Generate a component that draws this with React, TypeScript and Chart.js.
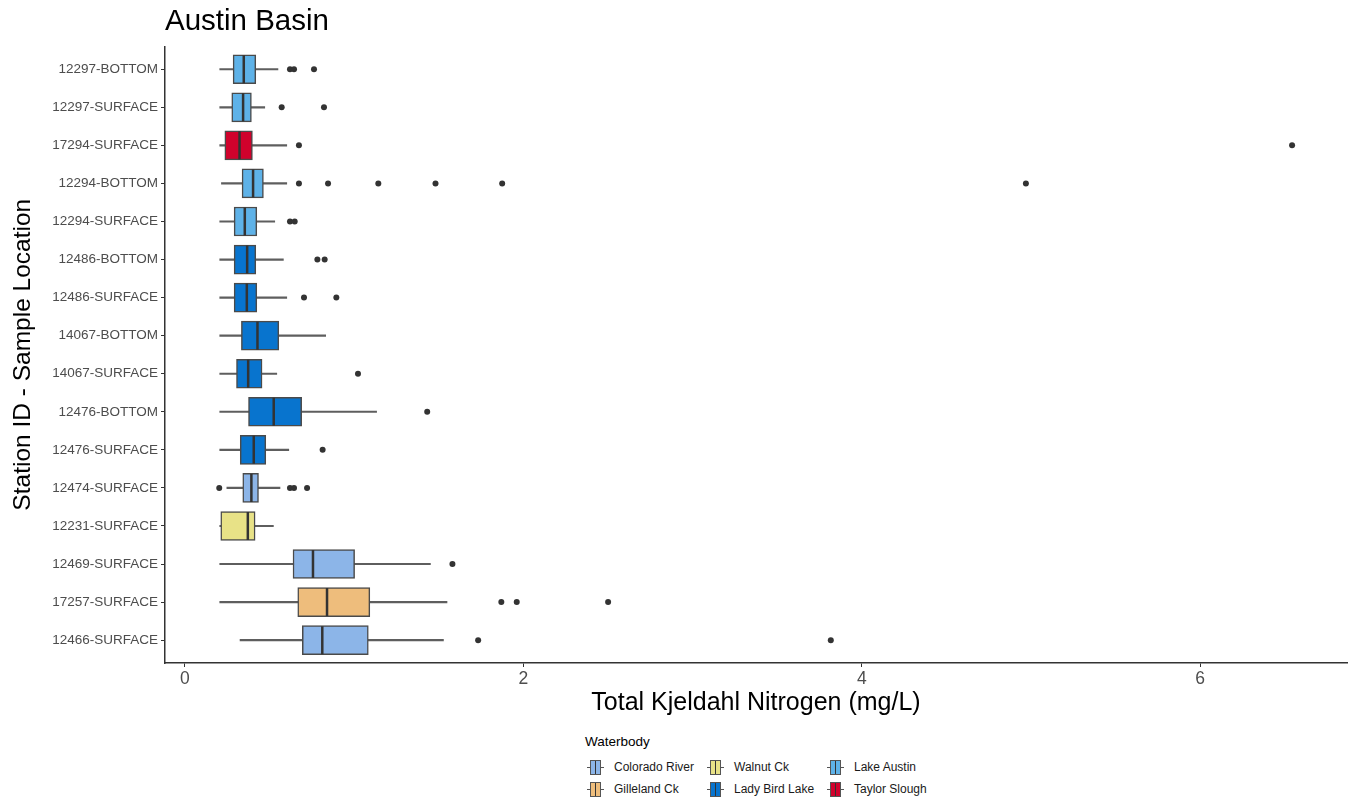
import React, { useEffect, useRef } from "react";
import { Chart, registerables } from "chart.js";

Chart.register(...registerables);

const stations = [
  "12297-BOTTOM",
  "12297-SURFACE",
  "17294-SURFACE",
  "12294-BOTTOM",
  "12294-SURFACE",
  "12486-BOTTOM",
  "12486-SURFACE",
  "14067-BOTTOM",
  "14067-SURFACE",
  "12476-BOTTOM",
  "12476-SURFACE",
  "12474-SURFACE",
  "12231-SURFACE",
  "12469-SURFACE",
  "17257-SURFACE",
  "12466-SURFACE",
];

const waterbodyOf = [
  "Lake Austin",
  "Lake Austin",
  "Taylor Slough",
  "Lake Austin",
  "Lake Austin",
  "Lady Bird Lake",
  "Lady Bird Lake",
  "Lady Bird Lake",
  "Lady Bird Lake",
  "Lady Bird Lake",
  "Lady Bird Lake",
  "Colorado River",
  "Walnut Ck",
  "Colorado River",
  "Gilleland Ck",
  "Colorado River",
];

const whiskerLow = [0.206, 0.206, 0.206, 0.216, 0.206, 0.206, 0.206, 0.206, 0.206, 0.206, 0.206, 0.248, 0.206, 0.206, 0.206, 0.326];
const q1 = [0.285, 0.277, 0.236, 0.338, 0.291, 0.291, 0.291, 0.334, 0.305, 0.376, 0.327, 0.342, 0.212, 0.639, 0.667, 0.694];
const median = [0.348, 0.344, 0.323, 0.403, 0.354, 0.368, 0.366, 0.429, 0.374, 0.525, 0.407, 0.393, 0.372, 0.757, 0.84, 0.812];
const q3 = [0.419, 0.393, 0.399, 0.464, 0.425, 0.419, 0.425, 0.555, 0.456, 0.69, 0.478, 0.435, 0.415, 1.003, 1.093, 1.084];
const whiskerHigh = [0.55, 0.472, 0.602, 0.602, 0.531, 0.582, 0.602, 0.832, 0.543, 1.133, 0.614, 0.562, 0.523, 1.451, 1.549, 1.528];

const outliers: number[][] = [
  [0.621, 0.645, 0.763],
  [0.572, 0.822],
  [0.674, 6.543],
  [0.674, 0.846, 1.143, 1.481, 1.875, 4.97],
  [0.621, 0.649],
  [0.783, 0.826],
  [0.704, 0.895],
  [],
  [1.023],
  [1.432],
  [0.814],
  [0.203, 0.621, 0.645, 0.722],
  [],
  [1.581],
  [1.87, 1.961, 2.501],
  [1.733, 3.817],
];

const xTicks = [0, 2, 4, 6];

const legendNames = ["Colorado River", "Gilleland Ck", "Walnut Ck", "Lady Bird Lake", "Lake Austin", "Taylor Slough"];
const legendColors = ["#8cb5e8", "#eebd7c", "#e8e287", "#0874ce", "#5eb2e8", "#d0022c"];

const colorFor = (name: string) => legendColors[legendNames.indexOf(name)];

const FONT = "'Liberation Sans', Arial, Helvetica, sans-serif";

function LegendKey({ color }: { color: string }) {
  return (
    <div style={{ position: "relative", width: 17, height: 16, flex: "0 0 auto" }}>
      <div style={{ position: "absolute", left: 0, right: 0, top: 7.5, height: 1.2, background: "#555" }} />
      <div
        style={{
          position: "absolute",
          left: 3,
          width: 9,
          top: 0.5,
          height: 13,
          background: color,
          border: "1px solid #555",
        }}
      />
      <div style={{ position: "absolute", left: 7.5, width: 1.6, top: 1.5, height: 13, background: "#333" }} />
    </div>
  );
}

export default function App() {
  const ref = useRef<HTMLCanvasElement | null>(null);

  useEffect(() => {
    if (!ref.current) return;
    const idx = stations.map((_, i) => i);
    const outlierPoints: { x: number; y: number }[] = [];
    outliers.forEach((arr, i) => arr.forEach((v) => outlierPoints.push({ x: v, y: i })));

    const chart = new Chart(ref.current, {
      type: "bar",
      data: {
        datasets: [
          {
            type: "scatter",
            data: outlierPoints,
            pointRadius: 3,
            pointBackgroundColor: "#333333",
            pointBorderWidth: 0,
            order: 0,
          } as any,
          {
            type: "scatter",
            data: idx.map((i) => ({ x: median[i], y: i })),
            pointStyle: "line",
            rotation: 90,
            pointRadius: 14,
            pointBorderColor: "#333333",
            pointBorderWidth: 2.5,
            order: 1,
          } as any,
          {
            type: "bar",
            data: idx.map((i) => ({ x: [q1[i], q3[i]], y: i })),
            backgroundColor: idx.map((i) => colorFor(waterbodyOf[i])),
            borderColor: "#4a4a4a",
            borderWidth: 1.5,
            borderSkipped: false,
            barThickness: 29,
            grouped: false,
            order: 2,
          } as any,
          {
            type: "bar",
            data: idx.map((i) => ({ x: [whiskerLow[i], whiskerHigh[i]], y: i })),
            backgroundColor: "#5e5e5e",
            borderWidth: 0,
            barThickness: 1.5,
            grouped: false,
            order: 3,
          } as any,
        ],
      },
      options: {
        indexAxis: "y",
        responsive: false,
        maintainAspectRatio: false,
        animation: false,
        layout: { autoPadding: false, padding: { left: 0, right: 4, top: 0, bottom: 0 } },
        plugins: {
          legend: { display: false },
          tooltip: { enabled: false },
          title: {
            display: true,
            text: "Austin Basin",
            align: "start",
            fullSize: false,
            color: "#000000",
            font: { family: FONT, size: 29.5, weight: "normal" },
            padding: { top: 4, bottom: 7 },
          },
        },
        scales: {
          x: {
            type: "linear",
            position: "bottom",
            offset: false,
            min: -0.1175,
            max: 6.8675,
            afterBuildTicks: (scale: any) => {
              scale.ticks = xTicks.map((v) => ({ value: v }));
            },
            afterFit: (scale: any) => {
              scale.height = 57;
            },
            grid: { drawOnChartArea: false, drawTicks: true, offset: false, tickLength: 4, color: "#333333", lineWidth: 1 },
            border: { display: true, color: "#333333", width: 1.5 },
            ticks: {
              color: "#4d4d4d",
              font: { family: FONT, size: 17.5 },
              padding: 2,
              maxRotation: 0,
            },
            title: {
              display: true,
              text: "Total Kjeldahl Nitrogen (mg/L)",
              color: "#000000",
              font: { family: FONT, size: 25 },
              padding: { top: 0, bottom: 2 },
            },
          },
          y: {
            type: "linear",
            position: "left",
            reverse: true,
            offset: false,
            min: -0.6,
            max: stations.length - 1 + 0.6,
            afterBuildTicks: (scale: any) => {
              scale.ticks = stations.map((_, i) => ({ value: i }));
            },
            afterFit: (scale: any) => {
              scale.width = 165;
            },
            grid: { drawOnChartArea: false, drawTicks: true, offset: false, tickLength: 4, color: "#333333", lineWidth: 1 },
            border: { display: true, color: "#333333", width: 1.5 },
            ticks: {
              color: "#4d4d4d",
              font: { family: FONT, size: 13.5 },
              padding: 3,
              autoSkip: false,
              callback: (v: any) => stations[v as number] ?? "",
            },
            title: {
              display: true,
              text: "Station ID - Sample Location",
              color: "#000000",
              font: { family: FONT, size: 24.5 },
              padding: { top: 9, bottom: 0 },
            },
          },
        },
      } as any,
    });
    return () => chart.destroy();
  }, []);

  const cols = [
    [0, 1],
    [2, 3],
    [4, 5],
  ];
  const colLeft = [587, 707, 827];

  return (
    <div style={{ position: "absolute", left: 0, top: 0, width: 1351, height: 797, background: "#fff", fontFamily: FONT }}>
      <canvas ref={ref} width={1351} height={720} style={{ display: "block", width: 1351, height: 720 }} />
      <div style={{ position: "absolute", left: 585, top: 734, fontSize: 13.5, color: "#000" }}>Waterbody</div>
      {cols.map((col, ci) =>
        col.map((li, ri) => (
          <div
            key={li}
            style={{
              position: "absolute",
              left: colLeft[ci],
              top: 759 + ri * 22,
              height: 16,
              display: "flex",
              alignItems: "center",
              fontSize: 12,
              color: "#1a1a1a",
              whiteSpace: "nowrap",
            }}
          >
            <LegendKey color={legendColors[li]} />
            <span style={{ marginLeft: 10 }}>{legendNames[li]}</span>
          </div>
        ))
      )}
    </div>
  );
}
